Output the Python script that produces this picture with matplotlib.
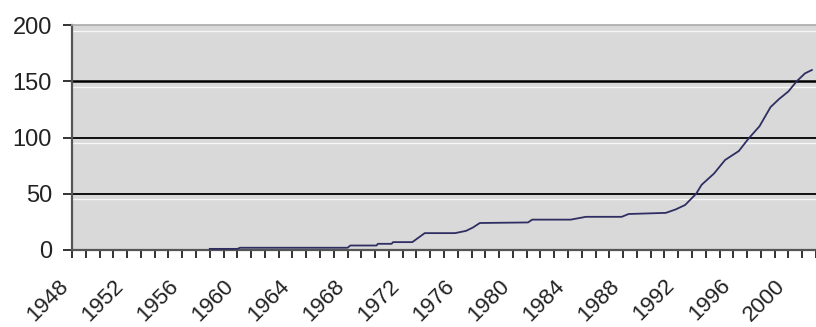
import matplotlib
matplotlib.use("Agg")
import matplotlib.pyplot as plt
import matplotlib.transforms as mtransforms

# values (year, count)
years = [1958.0, 1960.0, 1960.2, 1968.0, 1968.2, 1970.1, 1970.2, 1971.2, 1971.3,
         1972.7, 1973.6, 1975.8, 1976.6, 1977.1, 1977.6, 1981.1, 1981.4, 1984.2,
         1985.3, 1987.9, 1988.4, 1991.1, 1991.8, 1992.5, 1993.3, 1993.7, 1994.6,
         1995.4, 1996.4, 1997.1, 1997.9, 1998.7, 1999.3, 2000.0, 2000.6, 2001.2,
         2001.7]
values = [1, 1, 2, 2, 4, 4, 5.5, 5.5, 7,
          7, 15, 15, 17, 20, 24, 24.5, 27, 27,
          29.5, 29.5, 32, 33, 36, 40, 50, 58, 68,
          80, 88, 99, 110, 127, 134, 141, 150, 157,
          160]
y_ticks = [0, 50, 100, 150, 200]
x_label_years = list(range(1948, 2001, 4))

plt.rcParams['font.family'] = ['Liberation Sans', 'DejaVu Sans']

fig = plt.figure(figsize=(8.16, 3.27), dpi=100)
ax = fig.add_axes([72 / 816, 77 / 327, 744 / 816, 225 / 327])
ax.set_facecolor('#d9d9d9')

# white highlight lines just under each gridline (the Excel look)
for v in [195, 145, 95, 45]:
    ax.axhline(v, color='white', lw=1.0, alpha=0.8, zorder=1)
for v in [50, 100, 150]:
    ax.axhline(v, color='black', lw=1.8 if v == 150 else 1.3, zorder=2)

ax.plot(years, values, color='#2e2e62', lw=1.3, zorder=3)

ax.set_xlim(1948, 2002)
ax.set_ylim(0, 200)
ax.set_yticks(y_ticks)
ax.set_yticklabels([str(t) for t in y_ticks])
ax.set_xticks(range(1948, 2003))
ax.set_xticklabels([str(y) if y in x_label_years else '' for y in range(1948, 2003)],
                   rotation=45, ha='right', va='center', rotation_mode='anchor')

ax.tick_params(axis='y', length=6.5, width=1.4, color='#333333', pad=8,
               labelsize=17, labelcolor='#222222')
ax.tick_params(axis='x', length=6, width=1.4, color='#333333', pad=17.5,
               labelsize=16, labelcolor='#222222')

# Excel puts the label ends a bit left of the tick
shift = mtransforms.ScaledTranslation(-6.5 / 100, 0, fig.dpi_scale_trans)
for lbl in ax.get_xticklabels():
    lbl.set_transform(lbl.get_transform() + shift)

for side in ['left', 'bottom']:
    ax.spines[side].set_color('#555555')
    ax.spines[side].set_linewidth(1.6)
ax.spines['top'].set_color('#aaaaaa')
ax.spines['top'].set_linewidth(1.2)
ax.spines['right'].set_visible(False)

fig.savefig('out.png', dpi=100)
